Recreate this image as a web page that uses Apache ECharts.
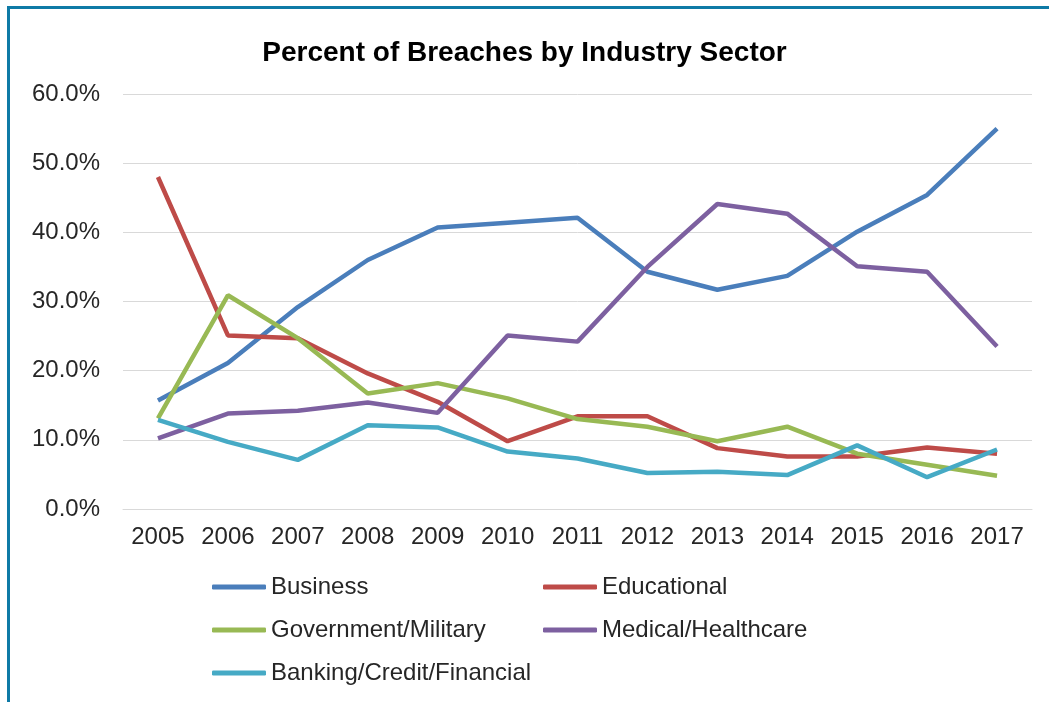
<!DOCTYPE html>
<html>
<head>
<meta charset="utf-8">
<script src="https://cdn.jsdelivr.net/npm/echarts@6/dist/echarts.min.js"></script>
<style>
html,body{margin:0;padding:0;background:#fff;}
#frame{position:absolute;left:7px;top:6px;width:1042px;height:696px;border-top:3px solid #0E7AA6;border-left:3px solid #0E7AA6;box-sizing:border-box;}
#chart{position:absolute;left:0;top:0;width:1049px;height:702px;}
</style>
</head>
<body>
<div id="chart"></div>
<div id="frame"></div>
<script>
const years = ['2005','2006','2007','2008','2009','2010','2011','2012','2013','2014','2015','2016','2017'];
const business   = [15.7, 21.1, 29.2, 36.0, 40.7, 41.4, 42.1, 34.3, 31.7, 33.7, 40.1, 45.4, 55.0];
const educational= [48.0, 25.1, 24.7, 19.6, 15.5, 9.8, 13.4, 13.4, 8.8, 7.6, 7.6, 8.9, 8.0];
const government = [13.1, 30.9, 24.7, 16.7, 18.2, 16.0, 13.0, 11.9, 9.8, 11.9, 8.0, 6.4, 4.8];
const medical    = [10.2, 13.8, 14.2, 15.4, 13.9, 25.1, 24.2, 35.0, 44.1, 42.7, 35.1, 34.3, 23.5];
const banking    = [12.9, 9.7, 7.1, 12.1, 11.8, 8.3, 7.3, 5.2, 5.4, 4.9, 9.2, 4.6, 8.6];
const seriesNames = ['Business','Educational','Government/Military','Medical/Healthcare','Banking/Credit/Financial'];
const seriesData = [business, educational, government, medical, banking];
const colors = ['#4A7EBB','#BE4B48','#98B954','#7D60A0','#46AAC5'];

const chart = echarts.init(document.getElementById('chart'));
const font = 'Liberation Sans, Arial, sans-serif';
const legendText = {fontFamily:font, fontSize:24, color:'#262626'};
chart.setOption({
  backgroundColor:'#fff',
  animation:false,
  color: colors,
  title:{
    text:'Percent of Breaches by Industry Sector',
    left:'center', top:34,
    textStyle:{fontFamily:font, fontWeight:'bold', fontSize:28, color:'#000'}
  },
  grid:{left:123, right:17, top:94, bottom:193},
  xAxis:{
    type:'category', data:years, boundaryGap:true,
    axisLine:{show:true, lineStyle:{color:'#D9D9D9', width:1}},
    axisTick:{show:false},
    axisLabel:{fontFamily:font, fontSize:24, color:'#262626', margin:16}
  },
  yAxis:{
    type:'value', min:0, max:60, interval:10,
    axisLine:{show:false}, axisTick:{show:false},
    splitLine:{lineStyle:{color:'#D9D9D9', width:1}},
    axisLabel:{fontFamily:font, fontSize:24, color:'#262626', margin:23,
      formatter: v => v.toFixed(1) + '%'}
  },
  legend:[
    {orient:'vertical', left:212, top:575, padding:0, itemGap:19, itemWidth:54, itemHeight:5, icon:'roundRect',
     data:['Business','Government/Military','Banking/Credit/Financial'], textStyle:legendText},
    {orient:'vertical', left:543, top:575, padding:0, itemGap:19, itemWidth:54, itemHeight:5, icon:'roundRect',
     data:['Educational','Medical/Healthcare'], textStyle:legendText}
  ],
  series: seriesNames.map((n,i)=>({
    name:n, type:'line', data:seriesData[i], symbol:'none',
    lineStyle:{width:4.5, color:colors[i]}, itemStyle:{color:colors[i]}
  }))
});
</script>
</body>
</html>
